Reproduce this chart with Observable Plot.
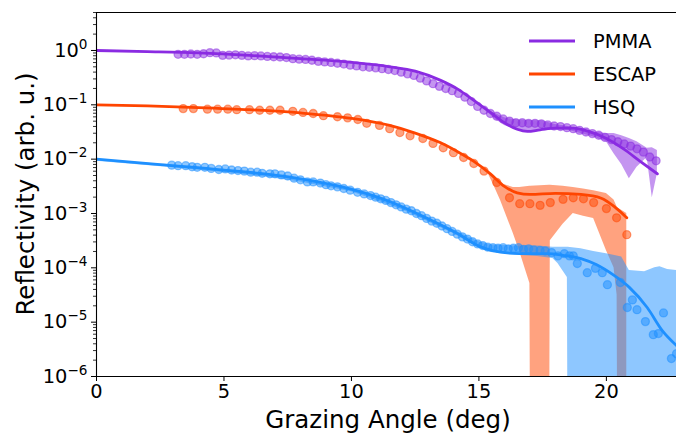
<!DOCTYPE html>
<html><head><meta charset="utf-8">
<script src="https://cdn.jsdelivr.net/npm/d3@7"></script>
<script src="https://cdn.jsdelivr.net/npm/@observablehq/plot@0.6"></script>
<style>
html,body{margin:0;padding:0;background:#fff;}
#chart{position:relative;width:676px;height:434px;overflow:hidden;}
svg{font-family:"DejaVu Sans",sans-serif;}
</style></head><body><div id="chart"></div>
<script>
// ---- series names & colours ----
const seriesNames = ["PMMA", "ESCAP", "HSQ"];
const seriesColors = ["#8A2BE2", "#FF4500", "#1E90FF"];

// ---- axis ticks ----
const xTicks = [0, 5, 10, 15, 20];
const yTicks = [1e-6, 1e-5, 1e-4, 1e-3, 1e-2, 1e-1, 1e0];
const yTickExponents = ["−6", "−5", "−4", "−3", "−2", "−1", "0"];

// ---- PMMA measured points (angle deg, log10 reflectivity) ----
const pmmaAngle = [3.2,3.45,3.7,3.95,4.2,4.45,4.7,4.95,5.2,5.45,5.7,5.95,6.2,6.45,6.7,6.95,7.2,7.45,7.7,7.95,8.2,8.45,8.7,8.95,9.2,9.45,9.7,9.95,10.2,10.45,10.7,10.95,11.2,11.45,11.7,11.95,12.2,12.45,12.7,12.95,13.2,13.45,13.7,13.95,14.2,14.45,14.7,14.95,15.2,15.45,15.7,15.95,16.2,16.45,16.7,16.95,17.2,17.45,17.7,17.95,18.2,18.45,18.7,18.95,19.2,19.45,19.7,19.95,20.2,20.45,20.7,20.95,21.2,21.45,21.7,21.95];
const pmmaLog10R = [-0.07,-0.07,-0.065,-0.07,-0.06,-0.04,-0.045,-0.09,-0.085,-0.08,-0.09,-0.1,-0.095,-0.1,-0.11,-0.115,-0.12,-0.13,-0.15,-0.16,-0.165,-0.18,-0.2,-0.21,-0.22,-0.235,-0.25,-0.27,-0.285,-0.3,-0.31,-0.32,-0.335,-0.35,-0.37,-0.4,-0.43,-0.46,-0.51,-0.56,-0.61,-0.66,-0.7,-0.74,-0.79,-0.86,-0.94,-1.03,-1.1,-1.16,-1.21,-1.26,-1.3,-1.33,-1.33,-1.34,-1.34,-1.35,-1.37,-1.39,-1.4,-1.42,-1.44,-1.47,-1.5,-1.53,-1.56,-1.6,-1.64,-1.68,-1.72,-1.76,-1.81,-1.87,-1.96,-2.03];
// PMMA fit
const pmmaFitAngle = [0,2,4,6,8,10,11.5,12.5,13.5,14.2,14.8,15.4,16.0,16.5,16.9,17.4,18.0,18.7,19.3,20.0,20.7,21.3,22.0];
const pmmaFitLog10R = [0,-0.02,-0.045,-0.09,-0.15,-0.22,-0.3,-0.38,-0.55,-0.72,-0.92,-1.12,-1.33,-1.45,-1.49,-1.46,-1.43,-1.43,-1.49,-1.62,-1.82,-2.03,-2.27];
// PMMA uncertainty band
const pmmaBandAngle = [15.3,15.6,16.0,16.5,17.0,17.5,18.0,18.5,19.0,19.5,20.0,20.3,20.6,20.9,21.2,21.6,21.8,22.0];
const pmmaBandLowLog10 = [-1.12,-1.25,-1.38,-1.46,-1.5,-1.48,-1.46,-1.47,-1.53,-1.59,-1.68,-1.9,-2.1,-2.36,-2.15,-1.97,-2.71,-2.27];
const pmmaBandHighLog10 = [-1.1,-1.15,-1.24,-1.28,-1.29,-1.3,-1.36,-1.4,-1.45,-1.5,-1.53,-1.53,-1.57,-1.62,-1.68,-1.8,-1.79,-1.84];

// ---- ESCAP ----
const escapAngle = [3.4,3.8,4.35,4.75,5.15,5.5,6.0,6.4,6.8,7.2,7.7,8.1,8.5,8.9,9.45,9.85,10.25,10.6,11.1,11.5,11.9,12.3,12.8,13.2,13.6,14.0,14.4,14.8,15.2,15.7,16.2,16.6,17.0,17.4,17.8,18.3,18.7,19.1,19.5,20.0,20.4,20.8];
const escapLog10R = [-1.07,-1.07,-1.08,-1.08,-1.08,-1.09,-1.09,-1.1,-1.1,-1.1,-1.12,-1.14,-1.16,-1.2,-1.22,-1.24,-1.27,-1.34,-1.38,-1.44,-1.51,-1.57,-1.62,-1.71,-1.79,-1.88,-1.97,-2.08,-2.22,-2.43,-2.71,-2.82,-2.82,-2.85,-2.8,-2.74,-2.71,-2.73,-2.8,-2.91,-3.08,-3.39];
const escapFitAngle = [0,2,4,6,8,10,11.5,12.5,13.5,14.3,14.8,15.45,16.0,16.5,17.0,18.0,19.0,19.8,20.3,20.8];
const escapFitLog10R = [-1,-1.02,-1.05,-1.09,-1.15,-1.25,-1.38,-1.52,-1.7,-1.9,-2.04,-2.27,-2.5,-2.62,-2.65,-2.63,-2.65,-2.72,-2.87,-3.08];
const escapBandAngle = [15.4,15.6,15.85,16.35,16.6,17.0,17.03,17.77,17.8,18.3,18.7,19.1,19.5,20.0,20.3,20.42,20.45,20.8];
const escapBandLowLog10 = [-2.3,-2.5,-2.76,-3.37,-3.7,-4.29,-8,-8,-3.5,-3.2,-3.0,-3.05,-3.09,-3.68,-4.0,-4.5,-8,-8];
const escapBandHighLog10 = [-2.25,-2.35,-2.45,-2.52,-2.52,-2.5,-2.5,-2.48,-2.48,-2.5,-2.52,-2.55,-2.58,-2.63,-2.75,-2.88,-2.9,-3.0];

// ---- HSQ ----
const hsqAngle = [2.95,3.2,3.5,3.75,3.95,4.25,4.5,4.8,5.05,5.3,5.55,5.8,6.05,6.3,6.5,6.8,7.0,7.25,7.5,7.75,8.0,8.27,8.5,8.78,9.0,9.2,9.45,9.7,9.95,10.24,10.5,10.75,10.95,11.15,11.35,11.55,11.75,11.95,12.15,12.35,12.55,12.75,12.95,13.15,13.35,13.55,13.75,13.95,14.15,14.35,14.55,14.75,14.95,15.15,15.35,15.55,15.75,15.95,16.15,16.35,16.55,16.75,16.95,17.15,17.4,17.6,17.85,18.1,18.35,18.55,18.7,18.86,19.25,19.57,19.84,20.04,20.55,20.82,21.02,21.2,21.53,21.84,22.04,22.24,22.55,22.75];
const hsqLog10R = [-2.11,-2.12,-2.12,-2.14,-2.15,-2.15,-2.17,-2.19,-2.18,-2.2,-2.21,-2.22,-2.24,-2.24,-2.26,-2.27,-2.27,-2.29,-2.31,-2.35,-2.38,-2.42,-2.42,-2.44,-2.47,-2.49,-2.51,-2.54,-2.57,-2.61,-2.64,-2.67,-2.7,-2.73,-2.76,-2.8,-2.84,-2.88,-2.92,-2.95,-3.0,-3.04,-3.09,-3.14,-3.18,-3.23,-3.28,-3.33,-3.38,-3.43,-3.47,-3.52,-3.56,-3.59,-3.62,-3.63,-3.64,-3.63,-3.65,-3.64,-3.63,-3.66,-3.65,-3.67,-3.68,-3.69,-3.72,-3.78,-3.74,-3.78,-3.78,-3.92,-4.09,-4.01,-4.09,-4.31,-4.27,-4.73,-4.59,-4.77,-4.99,-5.23,-5.21,-4.83,-5.67,-5.58];
const hsqFitAngle = [0,2.5,5,7.6,10.2,11.5,12.8,14.2,15.0,15.5,16.2,17.0,17.7,18.3,19.0,19.6,20.3,20.9,21.6,22.2,22.75];
const hsqFitLog10R = [-2,-2.1,-2.2,-2.33,-2.58,-2.78,-3.05,-3.38,-3.6,-3.68,-3.73,-3.74,-3.74,-3.77,-3.83,-3.94,-4.14,-4.36,-4.73,-5.16,-5.43];
const hsqBandAngle = [0,3,6,8,10,12,14,15,15.5,16.5,17.3,17.9,18.1,18.47,18.5,19.0,19.5,20.0,20.6,20.9,21.5,21.9,22.1,22.4,22.75];
const hsqBandLowLog10 = [-2.04,-2.16,-2.29,-2.42,-2.6,-2.93,-3.37,-3.63,-3.72,-3.77,-3.79,-3.83,-3.92,-4.18,-8,-8,-8,-8,-8,-8,-8,-8,-8,-8,-8];
const hsqBandHighLog10 = [-2.0,-2.11,-2.24,-2.36,-2.55,-2.87,-3.3,-3.52,-3.58,-3.6,-3.6,-3.62,-3.62,-3.62,-3.62,-3.65,-3.7,-3.74,-3.8,-4.05,-4.07,-4.0,-3.98,-4.03,-4.05];

const pts = (xs, ls) => xs.map((x, i) => ({x, y: Math.pow(10, ls[i])}));
const band = (xs, lo, hi) => xs.map((x, i) => ({x, lo: Math.pow(10, lo[i]), hi: Math.pow(10, hi[i])}));

const series = [
  {pts: pts(pmmaAngle, pmmaLog10R), fit: pts(pmmaFitAngle, pmmaFitLog10R), band: band(pmmaBandAngle, pmmaBandLowLog10, pmmaBandHighLog10)},
  {pts: pts(escapAngle, escapLog10R), fit: pts(escapFitAngle, escapFitLog10R), band: band(escapBandAngle, escapBandLowLog10, escapBandHighLog10)},
  {pts: pts(hsqAngle, hsqLog10R), fit: pts(hsqFitAngle, hsqFitLog10R), band: band(hsqBandAngle, hsqBandLowLog10, hsqBandHighLog10)}
];

const yTop = 5.0;
const minorTicks = d3.scaleLog().domain([1e-6, yTop]).ticks().filter(t => !yTicks.some(m => Math.abs(m - t) / m < 1e-9));

const marks = [];
series.forEach((s, i) => {
  marks.push(Plot.areaY(s.band, {x: "x", y1: "lo", y2: "hi", fill: seriesColors[i], fillOpacity: 0.5, clip: true}));
  marks.push(Plot.dot(s.pts, {x: "x", y: "y", r: 4, fill: seriesColors[i], fillOpacity: 0.5, stroke: seriesColors[i], strokeOpacity: 0.5, strokeWidth: 1.3, clip: true}));
});
series.forEach((s, i) => {
  marks.push(Plot.line(s.fit, {x: "x", y: "y", stroke: seriesColors[i], strokeWidth: 2.8, curve: "monotone-x", clip: true}));
});
marks.push(
  Plot.axisY({ticks: minorTicks, tickSize: 3, tickFormat: () => "", label: null, strokeWidth: 0.8}),
  Plot.axisY({ticks: yTicks, tickSize: 5, tickPadding: 4, fontSize: 19.4, label: null, tickFormat: d => "10^" + yTickExponents[yTicks.indexOf(d)], strokeWidth: 1}),
  Plot.axisX({ticks: xTicks, tickSize: 5, tickPadding: 3, fontSize: 19.4, label: null, tickFormat: d => String(d), strokeWidth: 1}),
  Plot.ruleX([0], {stroke: "black", strokeWidth: 1.1}),
  Plot.ruleY([1e-6, yTop], {stroke: "black", strokeWidth: 1.1})
);

const chart = Plot.plot({
  width: 676, height: 434,
  marginLeft: 96, marginRight: 0, marginTop: 12, marginBottom: 58,
  style: {fontFamily: "DejaVu Sans", background: "white", color: "black"},
  x: {domain: [0, 22.75]},
  y: {type: "log", domain: [1e-6, yTop]},
  marks
});
document.getElementById("chart").appendChild(chart);

const svg = d3.select(chart);
// superscript exponents on y tick labels
svg.selectAll('g[aria-label="y-axis tick label"] text').each(function() {
  const t = this.textContent;
  if (!t || t.indexOf("^") < 0) return;
  const exp = t.split("^")[1];
  const el = d3.select(this);
  el.text("10");
  el.append("tspan").attr("dy", "-8").attr("font-size", "13.6px").text(exp);
});

// axis titles
svg.append("text").attr("x", 388).attr("y", 428).attr("text-anchor", "middle")
  .attr("font-size", "24.5px").attr("fill", "black").text("Grazing Angle (deg)");
svg.append("text").attr("transform", "translate(34,194) rotate(-90)").attr("text-anchor", "middle")
  .attr("font-size", "24.5px").attr("fill", "black").text("Reflectivity (arb. u.)");

// legend
const legY = [41, 74, 107];
seriesNames.forEach((name, i) => {
  svg.append("line").attr("x1", 529).attr("x2", 575).attr("y1", legY[i]).attr("y2", legY[i])
    .attr("stroke", seriesColors[i]).attr("stroke-width", 3);
  svg.append("text").attr("x", 593).attr("y", legY[i] + 7).attr("font-size", "19.4px")
    .attr("text-anchor", "start").attr("fill", "black").text(name);
});
</script></body></html>
